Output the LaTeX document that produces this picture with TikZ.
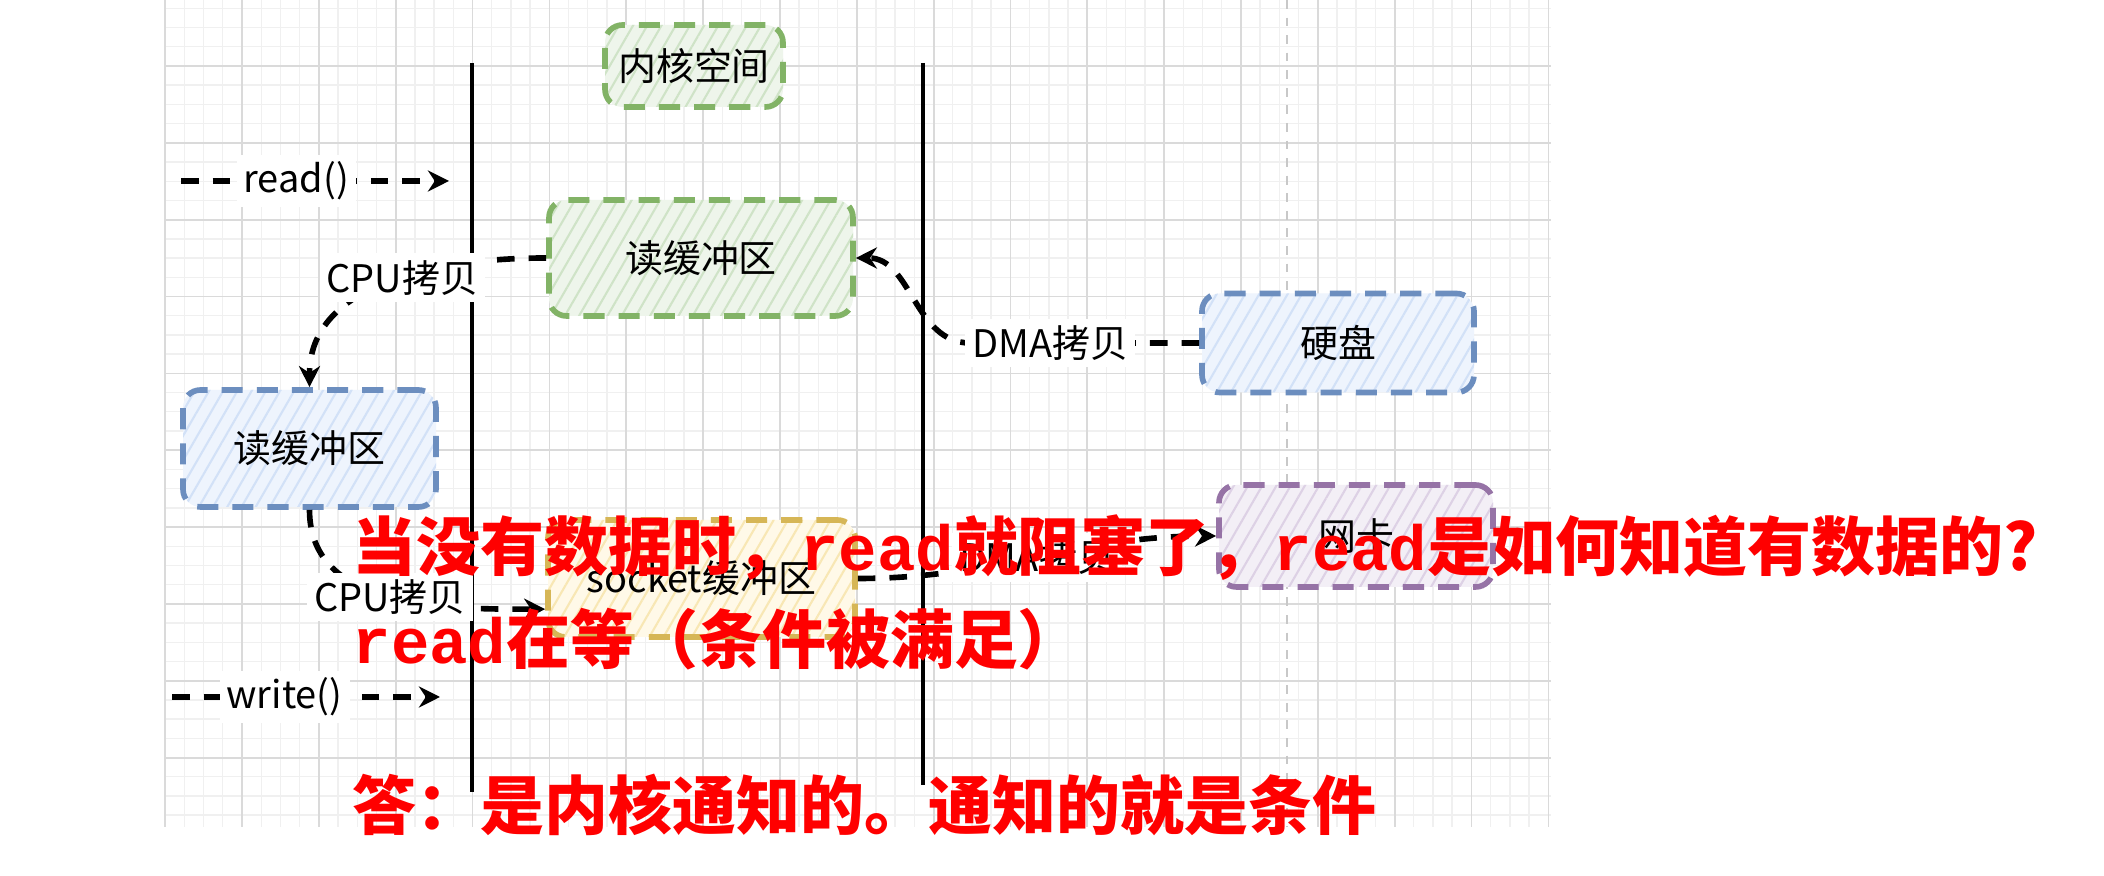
\documentclass[tikz,border=0pt]{standalone}
\usepackage{fontspec}
\setmainfont{Noto Sans CJK SC}
\newfontfamily\monobold{Liberation Mono}
\usetikzlibrary{arrows.meta,calc,patterns.meta}
\definecolor{gridmajor}{HTML}{DADADA}
\definecolor{gridminor}{HTML}{F0F0F0}
\definecolor{gridsplit}{HTML}{C8C8C8}
\definecolor{kgreen}{HTML}{82B366}
\definecolor{kgreenfill}{HTML}{EEF5EB}
\definecolor{kgreenhatch}{HTML}{CFE3C7}
\definecolor{ublue}{HTML}{6C8EBF}
\definecolor{ubluefill}{HTML}{EEF4FD}
\definecolor{ubluehatch}{HTML}{D2E1F7}
\definecolor{syellow}{HTML}{D6B656}
\definecolor{syellowfill}{HTML}{FFF9E8}
\definecolor{syellowhatch}{HTML}{F8E7B4}
\definecolor{npurple}{HTML}{9673A6}
\definecolor{npurplefill}{HTML}{F3EFF6}
\definecolor{npurplehatch}{HTML}{DDD1E5}
\definecolor{notered}{HTML}{FF0000}

\begin{document}
\begin{tikzpicture}[
  every node/.style={font=\fontsize{10.8pt}{13pt}\selectfont},
  buf/.style={draw, line width=1.6pt, dash pattern=on 6pt off 4pt,
    rounded corners=5pt, inner sep=0pt, align=center,
    pattern={Lines[angle=60,distance=3.5pt,line width=0.6pt]}},
  greenbuf/.style={buf, draw=kgreen, preaction={fill=kgreenfill}, pattern color=kgreenhatch},
  bluebuf/.style={buf, draw=ublue, preaction={fill=ubluefill}, pattern color=ubluehatch},
  yellowbuf/.style={buf, draw=syellow, preaction={fill=syellowfill}, pattern color=syellowhatch},
  purplebuf/.style={buf, draw=npurple, preaction={fill=npurplefill}, pattern color=npurplehatch},
  wall/.style={line width=1.4pt, black},
  copy/.style={-{Stealth[length=6pt,width=6pt]}, line width=1.6pt, dash pattern=on 5pt off 4pt},
  lbl/.style={fill=white, inner sep=2pt},
  note/.style={text=notered, anchor=base west, inner sep=0pt,
    font=\fontsize{18.2pt}{22pt}\selectfont\bfseries}]
\fill[white] (0,0) rectangle (21.04,-8.76);
\useasboundingbox (0,0) rectangle (21.04,-8.76);
\begin{scope}[shift={(2.42,-0.66)}]
  \draw[gridminor, line width=0.4pt, step=0.1921] (-0.77,0.66) grid (13.09,-7.61);
  \draw[gridmajor, line width=0.5pt, step=0.7685] (-0.77,0.66) grid (13.09,-7.61);
\end{scope}
\coordinate (splittop) at (12.87,0);
\coordinate (splitbot) at (12.87,-8.27);
\draw[gridsplit, line width=0.6pt, dash pattern=on 2.5pt off 2.5pt] (splittop) -- (splitbot);

\coordinate (wallAtop) at (4.72,-0.63);
\coordinate (wallAbot) at (4.72,-7.92);
\coordinate (wallBtop) at (9.23,-0.63);
\coordinate (wallBbot) at (9.23,-7.85);
\draw[wall] (wallAtop) -- (wallAbot);
\draw[wall] (wallBtop) -- (wallBbot);

\node[greenbuf, minimum width=1.78cm, minimum height=0.82cm] (kernel) at (6.94,-0.66) {内核空间};
\node[greenbuf, minimum width=3.04cm, minimum height=1.16cm] (kbuf) at (7.01,-2.58) {读缓冲区};
\node[bluebuf, minimum width=2.72cm, minimum height=0.99cm] (disk) at (13.38,-3.43) {硬盘};
\node[bluebuf, minimum width=2.53cm, minimum height=1.17cm] (ubuf) at (3.095,-4.485) {读缓冲区};
\node[yellowbuf, minimum width=3.07cm, minimum height=1.17cm] (sock) at (7.015,-5.785) {socket缓冲区};
\node[purplebuf, minimum width=2.74cm, minimum height=1.02cm] (nic) at (13.56,-5.36) {网卡};

\coordinate (readL) at (1.81,-1.81);
\coordinate (readR) at (4.49,-1.81);
\draw[copy] (readL) -- node[lbl, pos=0.43] {read()} (readR);
\coordinate (writeL) at (1.72,-6.97);
\coordinate (writeR) at (4.40,-6.97);
\draw[copy] (writeL) -- node[lbl, pos=0.42] {write()} (writeR);

\draw[copy] (kbuf.west) to[out=180, in=90] node[lbl, pos=0.45] {CPU拷贝} (ubuf.north);
\coordinate (dmabend) at (9.70,-3.43);
\draw[copy] (disk.west) -- node[lbl, pos=0.65] {DMA拷贝} (dmabend)
  to[out=180, in=0] (kbuf.east);
\draw[copy] (ubuf.south) to[out=-90, in=180] node[lbl, pos=0.5] {CPU拷贝}
  ($(sock.west)!0.5!(sock.south west)$);
\draw[copy] (sock.east) to[out=0, in=180] node[lbl, pos=0.5] {DMA拷贝} (nic.west);

\node[note] (ask) at (3.52,-5.71) {当没有数据时，{\monobold read}就阻塞了，{\monobold read}是如何知道有数据的?};
\node[note] (wait) at (3.52,-6.64) {{\monobold read}在等（条件被满足）};
\node[note] (answer) at (3.52,-8.30) {答：是内核通知的。通知的就是条件};
\end{tikzpicture}
\end{document}
